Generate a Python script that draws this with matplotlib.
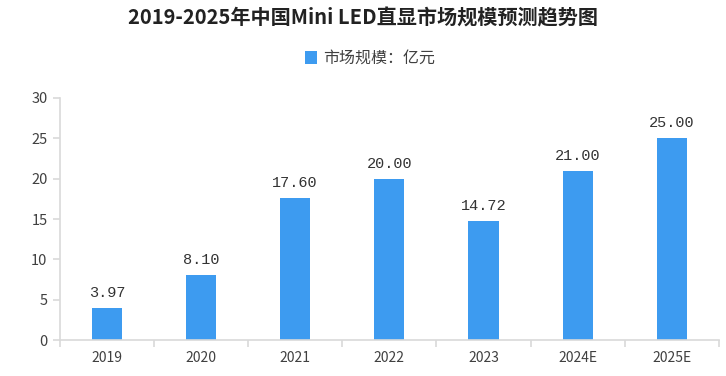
import matplotlib
matplotlib.use("Agg")
import matplotlib.pyplot as plt
import numpy as np

plt.rcParams['font.family'] = ['Noto Sans CJK SC', 'DejaVu Sans']

# --- data ---
years = ["2019", "2020", "2021", "2022", "2023", "2024E", "2025E"]
market_size = [3.97, 8.10, 17.60, 20.00, 14.72, 21.00, 25.00]
series_name = "市场规模：亿元"
title = "2019-2025年中国Mini LED直显市场规模预测趋势图"

bar_color = "#3d9bf0"
axis_color = "#d9d9d9"
text_color = "#404040"

fig = plt.figure(figsize=(7.26, 3.76), dpi=100)
ax = fig.add_axes([0.0826, 0.0957, 0.9074, 0.6437])

x = np.arange(len(years))
bars = ax.bar(x, market_size, width=0.32, color=bar_color, label=series_name, zorder=2)

for xi, v in zip(x, market_size):
    ax.text(xi, v + 1.0, f"{v:.2f}", ha='center', va='bottom',
            fontsize=11, color="#333333", family=['Liberation Mono', 'DejaVu Sans Mono'])

ax.set_xlim(-0.5, len(years) - 0.5)
ax.set_ylim(0, 30)
ax.set_yticks(range(0, 31, 5))
ax.set_xticks(x)
ax.set_xticklabels(years)
ax.set_xticks(np.arange(-0.5, len(years)), minor=True)

for s in ['top', 'right']:
    ax.spines[s].set_visible(False)
for s in ['left', 'bottom']:
    ax.spines[s].set_color(axis_color)
    ax.spines[s].set_linewidth(1.2)

ax.tick_params(axis='x', which='major', length=0, pad=8, labelsize=10, colors=text_color)
ax.tick_params(axis='x', which='minor', length=5, color=axis_color, width=1.2)
ax.tick_params(axis='y', length=5, color=axis_color, width=1.2, labelsize=10.5,
               labelcolor=text_color, pad=4)

fig.text(0.5, 0.952, title, ha='center', va='center', fontsize=14.5,
         fontweight='bold', color="#222222")
fig.legend(handles=[bars], labels=[series_name], loc='center', bbox_to_anchor=(0.51, 0.845),
           frameon=False, fontsize=11.5, handlelength=0.7, handleheight=0.9,
           handletextpad=0.4, labelcolor=text_color)

fig.savefig("out.png", dpi=100)
